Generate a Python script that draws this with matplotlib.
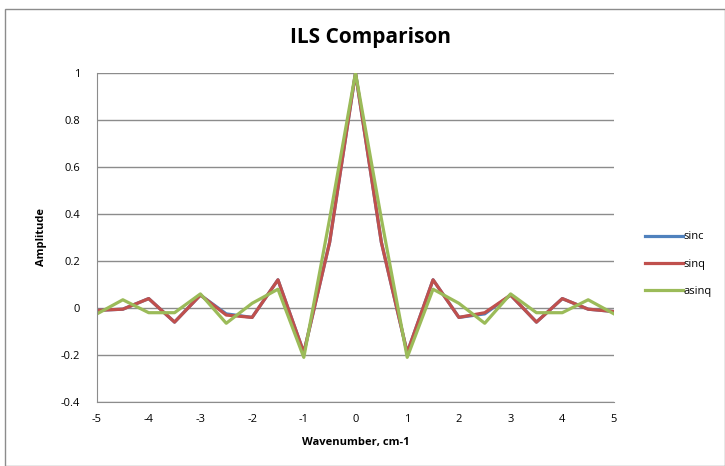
import numpy as np
from matplotlib import pyplot as plt
from matplotlib.patches import Rectangle

plt.rcParams['font.family'] = ['Open Sans', 'DejaVu Sans']
plt.rcParams['axes.unicode_minus'] = False

wavenumber = [-5, -4.5, -4, -3.5, -3, -2.5, -2, -1.5, -1, -0.5, 0,
              0.5, 1, 1.5, 2, 2.5, 3, 3.5, 4, 4.5, 5]
sinc = [-0.01, -0.005, 0.04, -0.06, 0.055, -0.025, -0.04, 0.12, -0.19, 0.28, 1,
        0.28, -0.19, 0.12, -0.04, -0.025, 0.055, -0.06, 0.04, -0.005, -0.015]
sinq = [-0.01, -0.005, 0.04, -0.06, 0.055, -0.03, -0.04, 0.12, -0.19, 0.28, 1,
        0.28, -0.19, 0.12, -0.04, -0.02, 0.055, -0.06, 0.04, -0.005, -0.015]
asinq = [-0.025, 0.035, -0.02, -0.02, 0.06, -0.065, 0.02, 0.08, -0.21, 0.38, 1,
         0.38, -0.21, 0.08, 0.02, -0.065, 0.06, -0.02, -0.02, 0.035, -0.025]

fig = plt.figure(figsize=(7.25, 4.66), dpi=100)
fig.patches.append(Rectangle((5/725, 0), 1 - 5/725, 1 - 9/466, transform=fig.transFigure,
                             fill=False, edgecolor='#8c8c8c', linewidth=1))
ax = fig.add_axes([97/725, 1 - 402/466, (614-97)/725, (402-73)/466])

ax.plot(wavenumber, sinc, color='#4F81BD', linewidth=2.3, label='sinc')
ax.plot(wavenumber, sinq, color='#C0504D', linewidth=2.3, label='sinq')
ax.plot(wavenumber, asinq, color='#9BBB59', linewidth=2.3, label='asinq')

ax.set_xlim(-5, 5)
ax.set_ylim(-0.4, 1)
ax.set_xticks(range(-5, 6))
ax.set_yticks([-0.4, -0.2, 0, 0.2, 0.4, 0.6, 0.8, 1])
ax.set_yticklabels(['-0.4', '-0.2', '0', '0.2', '0.4', '0.6', '0.8', '1'])
ax.tick_params(length=0, labelsize=8, pad=12)
ax.tick_params(axis='x', pad=9)
ax.yaxis.grid(True, color='#8c8c8c', linewidth=1)
ax.set_axisbelow(True)
for s in ['top', 'right']:
    ax.spines[s].set_visible(False)
for s in ['left', 'bottom']:
    ax.spines[s].set_color('#8c8c8c')

ax.set_xlabel('Wavenumber, cm-1', fontsize=8, fontweight='bold', labelpad=8)
ax.set_ylabel('Amplitude', fontsize=8, fontweight='bold', labelpad=10)
fig.text(370/725, 1 - 38/466, 'ILS Comparison', ha='center', va='center',
         fontsize=15, fontweight='bold')

fig.legend(loc='center left', bbox_to_anchor=(635/725, 1 - 264/466), frameon=False,
           fontsize=8, handlelength=3.4, handletextpad=0.1, labelspacing=1.45)

plt.savefig('out.png')
